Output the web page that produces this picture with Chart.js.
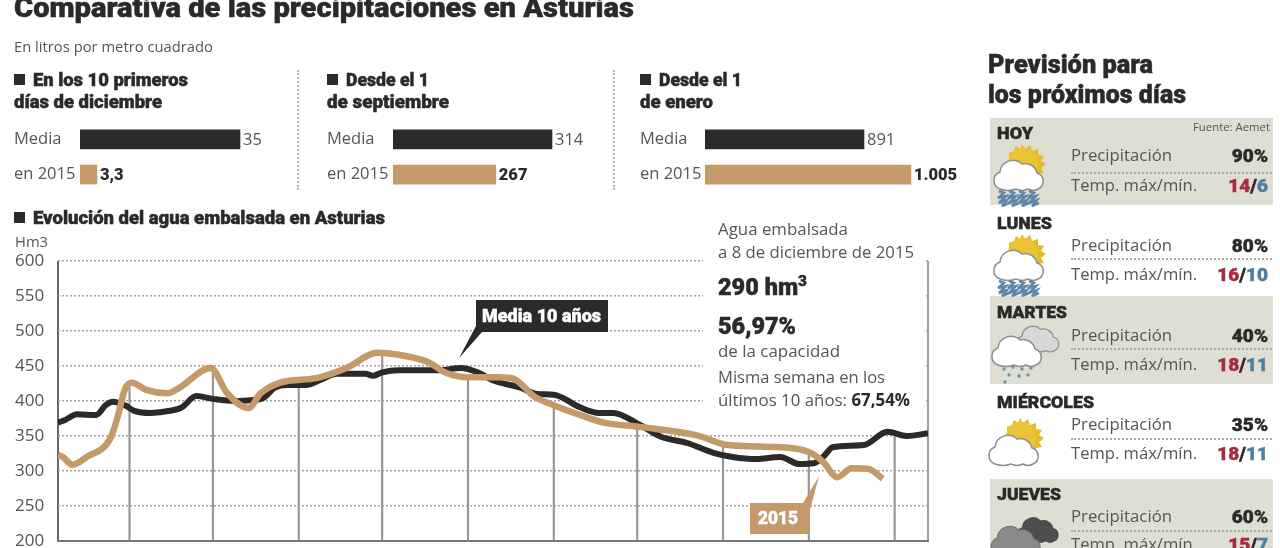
<!DOCTYPE html>
<html lang="es"><head><meta charset="utf-8">
<script src="https://cdn.jsdelivr.net/npm/chart.js@4"></script>
<style>
html,body{margin:0;padding:0;background:#fff;width:1280px;height:548px;overflow:hidden}
.t{position:absolute;white-space:nowrap;transform-origin:0 50%;line-height:1;color:#555;font-family:"Open Sans",sans-serif}
.b{font-family:Roboto,sans-serif;font-weight:900;color:#2b2a29;-webkit-text-stroke:.45px}
canvas{position:absolute;z-index:1}
.panel{position:absolute;left:990px;width:283px;background:#deded2}
.dots{position:absolute;left:1071px;width:201px;border-top:2px dotted #a9a9a0;height:0;z-index:2}
.vsep{position:absolute;top:70px;height:120px;border-left:2px dotted #b5b5b5}
.sq{position:absolute;left:14px;width:11px;height:11px;background:#2b2a29}
#whitebox{position:absolute;left:703px;top:258px;width:223px;height:152px;background:#fff;z-index:2}
svg.abs{position:absolute;z-index:3;overflow:visible}
.t{z-index:4}
</style></head><body>
<div class="panel" style="top:118px;height:87px"></div>
<div class="panel" style="top:296px;height:88px"></div>
<div class="panel" style="top:479px;height:69px"></div>
<div class="vsep" style="left:297px"></div>
<div class="vsep" style="left:613px"></div>
<div id="whitebox"></div>
<canvas id="barsA" width="290" height="90" style="left:14px;top:112px"></canvas>
<canvas id="barsB" width="290" height="90" style="left:327px;top:112px"></canvas>
<canvas id="barsC" width="330" height="90" style="left:640px;top:112px"></canvas>
<canvas id="main" width="915" height="310" style="left:15px;top:245px;z-index:1"></canvas>
<svg class="abs" style="left:0;top:0" width="1280" height="548">
  <polygon points="476,300 608,300 608,332 482,332 459,358 476,326" fill="#2b2a29"/>
  <polygon points="750,503 803,503 819,476 810,510 810,534 750,534" fill="#c49a6c"/>
  <defs>
    <path id="cl" d="M7 36 a9 9 0 0 1 0-17 a13 13 0 0 1 22-8 a12 12 0 0 1 15 9 a8.5 8.5 0 0 1 1 16 q-5 3-10 0 q-6 3-12 0 q-8 3-16 0 z"/>
    <g id="cloud"><use href="#cl" fill="#fff" stroke="#8f8f8f" stroke-width="1.5"/></g>
    <g id="sun"><path d="M20 0l3 5 5-4 2 6 6-2 0 6 6 1-3 5 5 3-5 4 3 5-6 1 1 6-6-1-1 5-8-3-15-8 0-20 5-2 2-5 4 3z" fill="#e3bb2c"/><circle cx="21" cy="19" r="15" fill="#e9c535"/></g>
    <g id="rain"><path d="M3 0l5 2-6 5 8-2-7 7 8-3-5 6 7-3" fill="none" stroke="#5f87a8" stroke-width="2.5"/></g>
    <g id="drops" fill="#6b94ad"><circle cx="3" cy="2" r="1.7"/><circle cx="12" cy="0" r="1.7"/><circle cx="21" cy="2" r="1.7"/><circle cx="30" cy="1" r="1.7"/><circle cx="8" cy="8" r="1.7"/><circle cx="18" cy="9" r="1.7"/><circle cx="27" cy="8" r="1.7"/><circle cx="4" cy="15" r="1.7"/></g>
  </defs>
  <g transform="translate(1002,144)"><use href="#sun"/></g><g transform="translate(993,153)"><use href="#cloud"/></g>
  <g transform="translate(996,191)"><use href="#rain"/></g><g transform="translate(1006,191)"><use href="#rain"/></g><g transform="translate(1016,191)"><use href="#rain"/></g><g transform="translate(1026,191)"><use href="#rain"/></g>
  <g transform="translate(1002,234)"><use href="#sun"/></g><g transform="translate(993,243)"><use href="#cloud"/></g>
  <g transform="translate(996,281)"><use href="#rain"/></g><g transform="translate(1006,281)"><use href="#rain"/></g><g transform="translate(1016,281)"><use href="#rain"/></g><g transform="translate(1026,281)"><use href="#rain"/></g>
  <g transform="translate(1016,320) scale(.85)"><use href="#cl" fill="#d8d8d8" stroke="#8f8f8f" stroke-width="1.5"/></g>
  <g transform="translate(991,329)"><use href="#cloud"/></g>
  <g transform="translate(1001,367)"><use href="#drops"/></g>
  <g transform="translate(1000,418)"><use href="#sun"/></g><g transform="translate(988,428)"><use href="#cloud"/></g>
  <g transform="translate(1016,511) scale(.85)"><use href="#cl" fill="#4d4d4d"/></g>
  <g transform="translate(990,519)"><use href="#cl" fill="#8a8a8a" stroke="#6a6a6a"/></g>
</svg>
<script>
// ---- data ----
const barCategories = ['Media', 'en 2015'];
// Printed figures
const decLabels = ['35', '3,3'];
const sepLabels = ['314', '267'];
const janLabels = ['891', '1.005'];
// Bar lengths as actually drawn in the reference, expressed in each panel's units
// (the original graphic's bars are not proportional to the printed figures).
const decLengths = [35, 3.7];
const sepLengths = [314, 203];
const janLengths = [891, 1154];

const yTicks = [200, 250, 300, 350, 400, 450, 500, 550, 600];
const mediaDays = [0,3,8,16,20,23,28,32,39,47,52,58,65,74,81,86,91,96,104,110,117,129,132,136,143,160,169,176,183,194,201,208,219,227,233,244,253,264,275,283,293,303,311,317,321,325,338,348,356,365];
const mediaValues = [369,373,381,380,394,399,394,386,383,386,391,407,403,400,401,404,419,423,423,430,439,439,436,441,444,444,447,441,429,419,410,409,391,383,383,366,349,340,326,320,317,320,310,311,320,334,337,356,350,354];
const y2015Days = [0,2,6,12,22,25,28,31,37,46,51,64,71,80,85,93,109,121,134,143,155,163,172,185,191,200,208,219,229,244,268,281,303,315,321,327,333,340,346];
const y2015Values = [323,320,309,320,347,377,416,426,416,411,419,447,411,390,411,426,433,447,469,466,456,440,434,434,432,406,394,380,369,363,351,337,334,327,313,291,304,303,289];
const markerDays = [30,65,101,136,172,208,243,279,315,351];
const markerTops = [423,444,431,469,434,394,363,337,327,354];

const BLACK = '#2b2a29', TAN = '#c49a6c', GREY = '#555';

// ---- text ----
function put(x, y, html, size, cls, w, color, right) {
  const d = document.createElement('div');
  d.className = 't ' + (cls || '');
  d.innerHTML = html;
  d.style.fontSize = size + 'px';
  d.style.top = (y - size / 2) + 'px';
  if (color) d.style.color = color;
  if (right) { d.style.right = (1280 - x) + 'px'; d.style.transformOrigin = '100% 50%'; }
  else d.style.left = x + 'px';
  document.body.appendChild(d);
  if (w) d.style.transform = 'scaleX(' + (w / d.getBoundingClientRect().width) + ')';
  return d;
}
put(14, 8, 'Comparativa de las precipitaciones en Asturias', 28, 'b', 620);
put(14, 47, 'En litros por metro cuadrado', 14.5, '', 199);
[[14, 'En los 10 primeros', 'días de diciembre', 155, 148], [327, 'Desde el 1', 'de septiembre', 83, 122], [640, 'Desde el 1', 'de enero', 83, 73]].forEach(h => {
  const sq = document.createElement('div'); sq.className = 'sq'; sq.style.left = h[0] + 'px'; sq.style.top = '74px'; document.body.appendChild(sq);
  put(h[0] + 19, 81, h[1], 17.5, 'b', h[3]);
  put(h[0], 103, h[2], 17.5, 'b', h[4]);
});
const sq2 = document.createElement('div'); sq2.className = 'sq'; sq2.style.top = '212px'; document.body.appendChild(sq2);
put(33, 219, 'Evolución del agua embalsada en Asturias', 17.5, 'b', 352);
put(15, 242, 'Hm3', 14.5, '', 33);
put(718, 228, 'Agua embalsada', 17, '', 130);
put(718, 251, 'a 8 de diciembre de 2015', 17, '', 196);
put(718, 287, '290 hm<sup style="font-size:15px;line-height:0">3</sup>', 23, 'b', 89);
put(718, 326, '56,97%', 23, 'b', 78);
put(718, 350, 'de la capacidad', 17, '', 122);
put(718, 376, 'Misma semana en los', 17, '', 167);
put(718, 399, 'últimos 10 años: <b style="color:#2b2a29">67,54%</b>', 17, '', 192);
put(482, 317, 'Media 10 años', 17.5, 'b', 119, '#fff');
put(758, 519, '2015', 17.5, 'b', 40, '#fff');
put(988, 64, 'Previsión para', 25, 'b', 165);
put(988, 94, 'los próximos días', 25, 'b', 198);
put(1193, 127, 'Fuente: Aemet', 10.5, '', 77);
const days = [
  ['HOY', 133, 154, 172, 184, '90%', '14', '6', 36],
  ['LUNES', 223, 244, 258, 273, '80%', '16', '10', 55],
  ['MARTES', 312, 334, 348, 363, '40%', '18', '11', 70],
  ['MIÉRCOLES', 402, 423, 438, 452, '35%', '18', '11', 97],
  ['JUEVES', 494, 515, 530, 543, '60%', '15', '7', 64]
];
days.forEach(r => {
  put(997, r[1], r[0], 17, 'b', r[8]);
  put(1071, r[2], 'Precipitación', 17, '', 101);
  const dot = document.createElement('div'); dot.className = 'dots'; dot.style.top = r[3] + 'px'; document.body.appendChild(dot);
  put(1071, r[4], 'Temp. máx/mín.', 17, '', 126);
  put(1268, r[2] + 1, r[5], 19, 'b', 0, null, true);
  put(1268, r[4] + 1, '<span style="color:#a62c40">' + r[6] + '</span>/<span style="color:#4f7f9f">' + r[7] + '</span>', 19, 'b', 0, null, true);
});

// ---- small bar charts ----
const valueLabels = {
  id: 'valueLabels',
  afterDatasetsDraw(chart, args, opts) {
    const { ctx } = chart;
    chart.getDatasetMeta(0).data.forEach((bar, i) => {
      ctx.save();
      ctx.font = i === 0 ? '400 16.5px "Open Sans"' : '900 16.5px Roboto';
      ctx.fillStyle = i === 0 ? GREY : BLACK;
      ctx.textBaseline = 'middle';
      ctx.fillText(opts.labels[i], bar.x + 3, bar.y + 1);
      ctx.restore();
    });
  }
};
function barChart(id, lengths, labels, max, axisWidth) {
  new Chart(document.getElementById(id), {
    type: 'bar',
    data: { labels: barCategories, datasets: [{ data: lengths, backgroundColor: [BLACK, TAN], barThickness: 19 }] },
    options: {
      indexAxis: 'y', responsive: false, animation: false, events: [],
      layout: { padding: 0 },
      plugins: { legend: { display: false }, tooltip: { enabled: false }, valueLabels: { labels } },
      scales: {
        x: { display: false, min: 0, max },
        y: {
          afterFit(s) { s.width = axisWidth; },
          grid: { display: false }, border: { display: false },
          ticks: { crossAlign: 'far', padding: 0, color: GREY, font: { family: '"Open Sans"', size: 16.5 } }
        }
      }
    },
    plugins: [valueLabels]
  });
}
barChart('barsA', decLengths, decLabels, 35 * 224 / 160, 66);
barChart('barsB', sepLengths, sepLabels, 314 * 224 / 159, 66);
barChart('barsC', janLengths, janLabels, 891 * 265 / 159, 65);

// ---- main line chart ----
const toXY = (xs, ys) => xs.map((x, i) => ({ x, y: ys[i] }));
new Chart(document.getElementById('main'), {
  data: {
    datasets: [
      { type: 'bar', order: 3, data: toXY(markerDays, markerTops), backgroundColor: '#969696', barThickness: 1.5, base: 200 },
      { type: 'line', order: 2, label: 'Media 10 años', data: toXY(mediaDays, mediaValues), borderColor: BLACK, borderWidth: 6, pointRadius: 0, cubicInterpolationMode: 'monotone' },
      { type: 'line', order: 1, label: '2015', data: toXY(y2015Days, y2015Values), borderColor: TAN, borderWidth: 6.5, pointRadius: 0, cubicInterpolationMode: 'monotone' }
    ]
  },
  options: {
    responsive: false, animation: false, events: [],
    layout: { padding: { top: 16, bottom: 14, right: 2, left: 0 } },
    plugins: { legend: { display: false }, tooltip: { enabled: false } },
    scales: {
      x: {
        type: 'linear', min: 0, max: 365, offset: false,
        afterBuildTicks(s) { s.ticks = [{ value: 0 }, { value: 365 }]; },
        ticks: { display: false, autoSkip: false },
        grid: { color: c => c.index === 0 ? '#666' : '#a0a0a0', lineWidth: 2, drawTicks: false, offset: false },
        border: { color: '#777', width: 2 }
      },
      y: {
        min: 200, max: 600,
        afterBuildTicks(s) { s.ticks = yTicks.map(value => ({ value })); },
        afterFit(s) { s.width = 43; },
        grid: { color: '#a3a3a3', lineWidth: 1.5, drawTicks: false },
        border: { display: false, dash: [2, 2] },
        ticks: { crossAlign: 'far', padding: 0, color: GREY, font: { family: '"Open Sans"', size: 17 }, callback: v => String(v) }
      }
    }
  }
});
</script>
</body></html>
